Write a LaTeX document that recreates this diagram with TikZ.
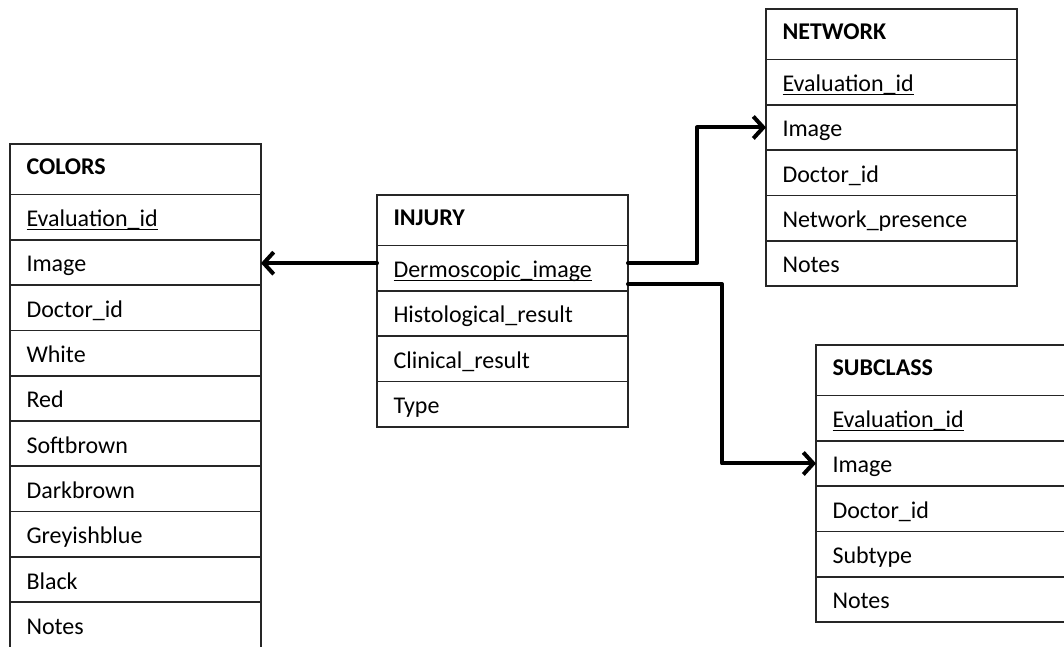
\documentclass[tikz,border=0pt]{standalone}
\usepackage{fontspec}
\setmainfont{Carlito}
\usetikzlibrary{arrows.meta}
\newcommand\ulx[1]{\setbox0\hbox{#1}\rlap{\rule[-3.5pt]{\wd0}{1.3pt}}\box0}
\tikzset{
  cell/.style={draw=black!85, line width=1.7pt, anchor=north west, outer sep=0pt,
    minimum height=45.3pt, inner xsep=16.5pt, inner ysep=0pt, text width=218pt,
    align=left, text height=22pt, text depth=3pt, font=\fontsize{24}{28}\selectfont},
  hdr/.style={cell, minimum height=50.5pt, text height=15pt, text depth=5pt,
    font=\fontsize{24}{28}\selectfont\bfseries},
  conn/.style={line width=4pt, -{Straight Barb[length=10pt,width=22pt,line width=4pt]}, line cap=round, line join=round}
}
\begin{document}
\begin{tikzpicture}[x=1pt,y=-1pt]
\clip (0,0) rectangle (1064,646);
% COLORS
\node[hdr] (colors-0) at (10,144) {COLORS};
\node[cell] (colors-1) at (colors-0.south west) {\ulx{Evaluation\_id}};
\node[cell] (colors-2) at (colors-1.south west) {Image};
\node[cell] (colors-3) at (colors-2.south west) {Doctor\_id};
\node[cell] (colors-4) at (colors-3.south west) {White};
\node[cell] (colors-5) at (colors-4.south west) {Red};
\node[cell] (colors-6) at (colors-5.south west) {Softbrown};
\node[cell] (colors-7) at (colors-6.south west) {Darkbrown};
\node[cell] (colors-8) at (colors-7.south west) {Greyishblue};
\node[cell] (colors-9) at (colors-8.south west) {Black};
\node[cell] (colors-10) at (colors-9.south west) {Notes};
% INJURY
\node[hdr] (injury-0) at (377,195) {INJURY};
\node[cell] (injury-1) at (injury-0.south west) {\ulx{Dermoscopic\_image}};
\node[cell] (injury-2) at (injury-1.south west) {Histological\_result};
\node[cell] (injury-3) at (injury-2.south west) {Clinical\_result};
\node[cell] (injury-4) at (injury-3.south west) {Type};
% NETWORK
\node[hdr] (network-0) at (766,9) {NETWORK};
\node[cell] (network-1) at (network-0.south west) {\ulx{Evaluation\_id}};
\node[cell] (network-2) at (network-1.south west) {Image};
\node[cell] (network-3) at (network-2.south west) {Doctor\_id};
\node[cell] (network-4) at (network-3.south west) {Network\_presence};
\node[cell] (network-5) at (network-4.south west) {Notes};
% SUBCLASS
\node[hdr] (subclass-0) at (816,345) {SUBCLASS};
\node[cell] (subclass-1) at (subclass-0.south west) {\ulx{Evaluation\_id}};
\node[cell] (subclass-2) at (subclass-1.south west) {Image};
\node[cell] (subclass-3) at (subclass-2.south west) {Doctor\_id};
\node[cell] (subclass-4) at (subclass-3.south west) {Subtype};
\node[cell] (subclass-5) at (subclass-4.south west) {Notes};
% connectors
\coordinate (s1) at ([yshift=5pt]injury-1.west);
\coordinate (s2) at ([yshift=5pt]injury-1.east);
\coordinate (s3) at ([yshift=-16pt]injury-1.east);
\draw[conn] (s1) -- (s1 -| colors-2.east);
\draw[conn] (s2) -- ++(69,0) |- (network-2.west);
\draw[conn] (s3) -- ++(94,0) |- (subclass-2.west);
\end{tikzpicture}
\end{document}
